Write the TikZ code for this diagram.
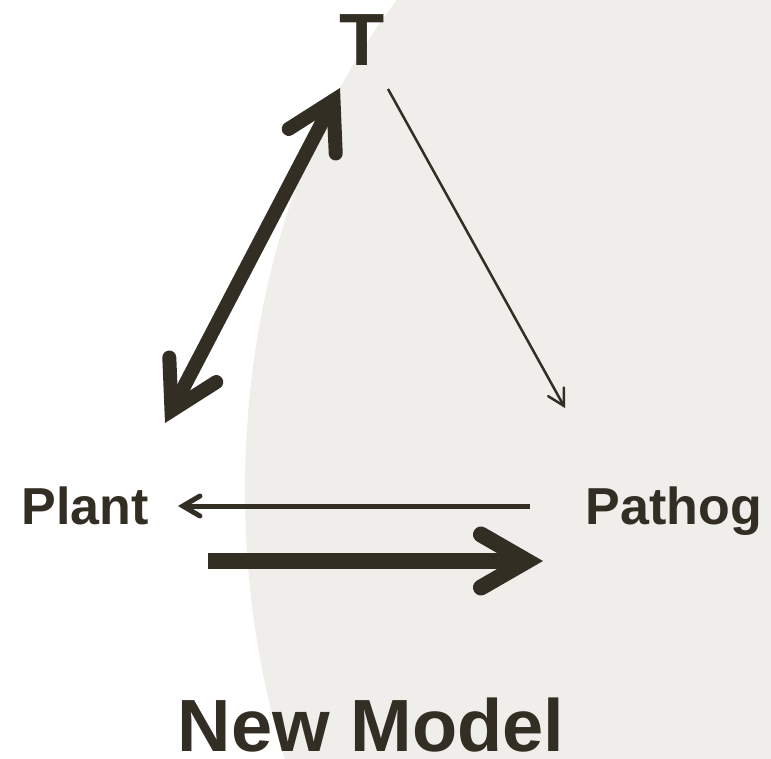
\documentclass[tikz,border=0pt]{standalone}
\usepackage{fontspec}
\setmainfont{Liberation Sans}
\usetikzlibrary{arrows.meta, positioning}

\definecolor{inkbrown}{HTML}{332E24}
\definecolor{paleshade}{HTML}{EFEEEA}

\begin{document}
\begin{tikzpicture}[x=1pt,y=-1pt,
    fatbarb/.tip={Straight Barb[length=46pt,width=53pt,line cap=round,line join=miter]},
    thinbarb/.tip={Straight Barb[length=17pt,width=20pt,line cap=round,line join=miter]},
    wirebarb/.tip={Straight Barb[length=16pt,width=18pt,line cap=round,line join=miter]},
    word/.style={font=\bfseries\fontsize{52}{52}\selectfont, text=inkbrown, inner sep=0pt, anchor=base},
    bigword/.style={word, font=\bfseries\fontsize{74}{74}\selectfont}]
  \useasboundingbox (0,0) rectangle (771,758);
  % shaded backdrop
  \begin{scope}
    \clip (0,0) rectangle (771,758);
    \fill[paleshade] (700,490) ellipse [x radius=455, y radius=657];
  \end{scope}

  \node[bigword] (T) at (362,65) {T};
  \node[word] (plant) at (85,524) {Plant};
  \node[word] (pathog) at (674,524) {Pathog};
  \node[bigword] (title) at (371,751) {New Model};

  \coordinate (tp_low) at (165,423);
  \coordinate (tp_high) at (340,88);
  \coordinate (tq_top) at (388,89);
  \coordinate (tq_end) at (565,408);
  \coordinate (back_from) at (530,506);
  \coordinate (back_to) at (178,506);
  \coordinate (push_from) at (208,561);
  \coordinate (push_to) at (543,561);

  \path[draw=inkbrown]
    (tp_low) edge[line width=14pt, fatbarb-fatbarb] (tp_high)
    (tq_top) edge[line width=2.5pt, -wirebarb] (tq_end)
    (back_from) edge[line width=5pt, -thinbarb] (back_to)
    (push_from) edge[line width=16pt, -fatbarb] (push_to);
\end{tikzpicture}
\end{document}
